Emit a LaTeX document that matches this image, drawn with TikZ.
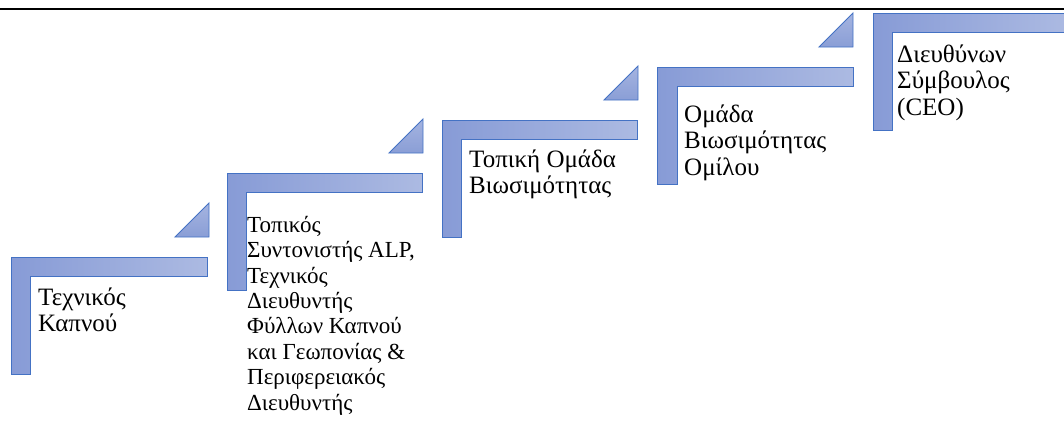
\documentclass[tikz,border=0pt]{standalone}
\usepackage{fontspec}
\setmainfont{Liberation Serif}
\definecolor{edgeblue}{RGB}{68,114,196}
\definecolor{fillL}{RGB}{135,155,214}
\definecolor{fillR}{RGB}{172,186,226}
\definecolor{triT}{RGB}{165,180,224}
\definecolor{triB}{RGB}{138,158,214}
\newcommand{\stepL}[3]{% #1 left x, #2 top y, #3 right x
  \draw[stepshape] (#1,#2) -- (#3,#2) -- (#3,#2+19.5) -- (#1+19.5,#2+19.5) -- (#1+19.5,#2+117) -- (#1,#2+117) -- cycle;}
\newcommand{\stepTri}[2]{% #1 right x, #2 bottom y
  \draw[trishape] (#1-34,#2) -- (#1,#2) -- (#1,#2-34) -- cycle;}
\begin{document}
\begin{tikzpicture}[x=1pt,y=-1pt,
  stepshape/.style={draw=edgeblue,line width=0.9pt,left color=fillL,right color=fillR},
  trishape/.style={draw=edgeblue,line width=0.9pt,top color=triT,bottom color=triB},
  lbl/.style={anchor=north west,inner sep=0pt,align=left,text=black,font=\fontsize{25}{26.5}\selectfont},
  lblsmall/.style={anchor=north west,inner sep=0pt,align=left,text=black,font=\fontsize{23}{25.4}\selectfont}]
\useasboundingbox (0,0) rectangle (1064,421);
\clip (0,0) rectangle (1064,421);
\coordinate (tl) at (0,9.2);
\coordinate (tr) at (1064,9.2);
\draw[line width=1.7pt] (tl) -- (tr);
% steps
\stepL{11}{257}{207}
\stepL{227}{173}{422}
\stepL{442}{120}{637}
\stepL{657.5}{67}{853}
\stepL{873}{13}{1069}
% triangles
\stepTri{209}{237}
\stepTri{423}{153}
\stepTri{638}{100}
\stepTri{853}{47}
% labels
\node[lbl] (t1) at (38,285) {\rule{0pt}{20pt}Τεχνικός\\Καπνού};
\node[lblsmall] (t2) at (247,214) {\rule{0pt}{18pt}Τοπικός\\Συντονιστής ALP,\\Τεχνικός\\Διευθυντής\\Φύλλων Καπνού\\και Γεωπονίας \&\\Περιφερειακός\\Διευθυντής};
\node[lbl] (t3) at (469,147) {\rule{0pt}{20pt}Τοπική Ομάδα\\Βιωσιμότητας};
\node[lbl] (t4) at (684,102) {\rule{0pt}{20pt}Ομάδα\\Βιωσιμότητας\\Ομίλου};
\node[lbl] (t5) at (897,42) {\rule{0pt}{20pt}Διευθύνων\\Σύμβουλος\\(CEO)};
\end{tikzpicture}
\end{document}
